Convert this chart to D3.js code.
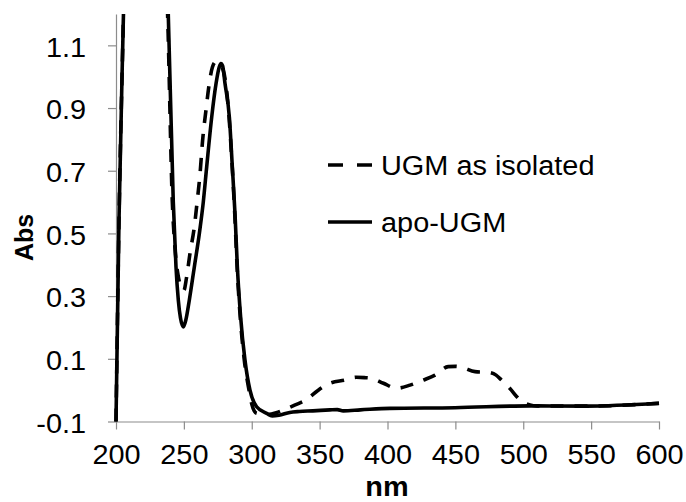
<!DOCTYPE html>
<html>
<head>
<meta charset="utf-8">
<script src="https://cdn.jsdelivr.net/npm/d3@7"></script>
<style>
  body { margin: 0; background: #fff; }
  text { font-family: "Liberation Sans", Arial, sans-serif; }
</style>
</head>
<body>
<div id="chart"></div>
<script>
// wavelength (nm) / absorbance pairs
const apoWl = [200, 202.2, 205.5, 208, 232, 238.5, 242.2, 244.2, 245.9, 247.5, 249.6, 251.5, 254, 257.7, 261.4, 264.3, 266.8, 270.5, 273.7, 276, 277.3, 278.5, 280.3, 283.5, 285.7, 287.7, 289.4, 291.8, 295, 298.7, 303.6, 311, 315, 320, 328, 335, 345, 357.6, 363, 367.4, 380, 401.8, 449.7, 505, 546.7, 600];
const apoAbs = [-0.1, 0.54, 1.2, 1.7, 1.7, 1.2, 0.6, 0.393, 0.287, 0.23, 0.202, 0.225, 0.287, 0.393, 0.5, 0.6, 0.712, 0.871, 0.978, 1.03, 1.042, 1.035, 0.978, 0.871, 0.712, 0.56, 0.393, 0.234, 0.096, 0.0, -0.053, -0.074, -0.082, -0.08, -0.071, -0.068, -0.066, -0.063, -0.062, -0.066, -0.063, -0.058, -0.056, -0.05, -0.051, -0.042];

const isoWl = [200, 202.2, 205.5, 208, 231, 238, 241.5, 243.5, 246, 248.5, 250, 252, 254.5, 257.7, 259.9, 261.9, 263.8, 266.3, 268.7, 271, 273.7, 276, 279, 282.7, 285.5, 287.5, 289.2, 291.5, 294.5, 298, 300, 303.6, 310, 318, 325, 332, 340, 349, 357.6, 368.7, 377, 383, 388, 397, 406.7, 416.6, 426.3, 435, 444.7, 450, 454.6, 464.5, 474.3, 480, 484, 490, 497.6, 505, 510, 546.7, 600];
const isoAbs = [-0.1, 0.54, 1.2, 1.7, 1.7, 1.2, 0.6, 0.45, 0.36, 0.325, 0.318, 0.36, 0.436, 0.521, 0.606, 0.69, 0.797, 0.894, 0.978, 1.03, 1.048, 1.04, 1.02, 0.903, 0.72, 0.56, 0.393, 0.234, 0.096, 0.0, -0.044, -0.074, -0.078, -0.072, -0.06, -0.047, -0.031, 0.0, 0.022, 0.032, 0.041, 0.04, 0.038, 0.022, 0.006, 0.016, 0.032, 0.048, 0.075, 0.076, 0.073, 0.059, 0.057, 0.048, 0.032, 0.006, -0.031, -0.047, -0.05, -0.051, -0.042];

const xTicks = [200, 250, 300, 350, 400, 450, 500, 550, 600];
const yTicks = [-0.1, 0.1, 0.3, 0.5, 0.7, 0.9, 1.1];
const yTickLabels = ['-0.1', '0.1', '0.3', '0.5', '0.7', '0.9', '1.1'];
const seriesNames = ['UGM as isolated', 'apo-UGM'];

const width = 686, height = 502;
const plotLeft = 116, plotRight = 659, plotTop = 14, plotBottom = 421.5;
const stretch = 1.07; // text in the source is a bit wide

const svg = d3.select('#chart').append('svg')
    .attr('width', width)
    .attr('height', height);

const xScale = d3.scaleLinear().domain([200, 600]).range([plotLeft, plotRight]);
const yScale = d3.scaleLinear().domain([-0.1, 1.2]).range([plotBottom, plotTop]);

svg.append('defs').append('clipPath')
    .attr('id', 'clip')
    .append('rect')
    .attr('x', plotLeft - 6)
    .attr('y', plotTop)
    .attr('width', plotRight - plotLeft + 12)
    .attr('height', plotBottom - plotTop + 8);

// axes
const xAxis = d3.axisBottom(xScale).tickValues(xTicks).tickSize(8).tickSizeOuter(0).tickPadding(15);
const yAxis = d3.axisLeft(yScale).tickValues(yTicks).tickSize(8).tickSizeOuter(0).tickPadding(20)
    .tickFormat((d, i) => yTickLabels[i]);

const xAxisG = svg.append('g')
    .attr('transform', `translate(0, ${plotBottom})`)
    .call(xAxis);
const yAxisG = svg.append('g')
    .attr('transform', `translate(${plotLeft}, 0)`)
    .call(yAxis);

[xAxisG, yAxisG].forEach((g) => {
    g.select('.domain').attr('stroke', '#8c8c8c').attr('stroke-width', 1.2);
    g.selectAll('.tick line').attr('stroke', '#8c8c8c').attr('stroke-width', 1.2);
    g.selectAll('.tick text')
        .attr('fill', '#000')
        .attr('transform', `scale(${stretch},1)`)
        .style('font-size', '27px')
        .style('font-family', '"Liberation Sans", Arial, sans-serif');
});
yAxisG.selectAll('.tick text').attr('dy', '0.4em');

// axis titles
svg.append('text')
    .attr('transform', `translate(387, 496) scale(${stretch},1)`)
    .attr('text-anchor', 'middle')
    .style('font-size', '27px')
    .style('font-weight', 'bold')
    .text('nm');

svg.append('text')
    .attr('transform', 'translate(33, 237.5) rotate(-90)')
    .attr('text-anchor', 'middle')
    .style('font-size', '25px')
    .style('font-weight', 'bold')
    .text('Abs');

// spectra
const line = d3.line()
    .x(d => xScale(d[0]))
    .y(d => yScale(d[1]))
    .curve(d3.curveMonotoneX);

const apoData = apoWl.map((w, i) => [w, apoAbs[i]]);
const isoData = isoWl.map((w, i) => [w, isoAbs[i]]);

const plot = svg.append('g').attr('clip-path', 'url(#clip)');

plot.append('path')
    .datum(isoData)
    .attr('fill', 'none')
    .attr('stroke', '#000')
    .attr('stroke-width', 3.6)
    .attr('stroke-dasharray', '13,11')
    .attr('d', line);

plot.append('path')
    .datum(apoData)
    .attr('fill', 'none')
    .attr('stroke', '#000')
    .attr('stroke-width', 3.6)
    .attr('d', line);

// legend
const legend = svg.append('g');
const legendRows = [
    {name: seriesNames[0], y: 165, dash: '15,14'},
    {name: seriesNames[1], y: 222, dash: null},
];
legendRows.forEach((r) => {
    legend.append('line')
        .attr('x1', 328).attr('x2', 372)
        .attr('y1', r.y).attr('y2', r.y)
        .attr('stroke', '#000')
        .attr('stroke-width', 3.6)
        .attr('stroke-dasharray', r.dash);
    legend.append('text')
        .attr('transform', `translate(381, ${r.y + 10}) scale(${stretch},1)`)
        .style('font-size', '27px')
        .text(r.name);
});
</script>
</body>
</html>
